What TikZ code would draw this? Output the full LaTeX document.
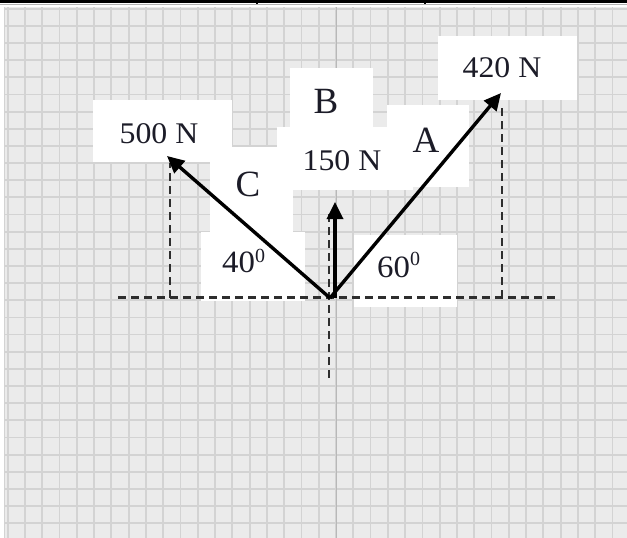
\documentclass[tikz,border=0pt]{standalone}
\usepackage{fontspec}
\setmainfont{Liberation Serif}
\usetikzlibrary{arrows.meta}
\definecolor{paper}{HTML}{EBEBEB}
\definecolor{gridc}{HTML}{D3D3D3}
\definecolor{axisc}{HTML}{B8B8B8}
\definecolor{ink}{HTML}{1C1C28}
\definecolor{dashc}{HTML}{2E2E2E}
\newcommand\wideT[1]{\scalebox{1.06}[1]{#1}}
\begin{document}
\begin{tikzpicture}[x=1pt,y=-1pt,
  wbox/.style={fill=white,draw=none},
  lbl/.style={inner sep=0pt,text=ink,font=\fontsize{30}{30}\selectfont},
  ang/.style={inner sep=0pt,text=ink,font=\fontsize{31}{31}\selectfont},
  big/.style={inner sep=0pt,text=ink,font=\fontsize{37}{37}\selectfont},
  force/.style={draw=black,line width=3.4pt,-{Triangle[length=17pt,width=16pt]}},
  guide/.style={draw=dashc,line width=2.2pt,dash pattern=on 8pt off 5pt}]
\useasboundingbox (0,0) rectangle (627,538);
\fill[white] (0,0) rectangle (627,538);
% graph paper
\fill[paper] (4,7) rectangle (627,538);
\foreach \k in {0,...,35} \draw[gridc,line width=1.8pt] ({7.7+17.28*\k},7) -- ({7.7+17.28*\k},538);
\foreach \k in {0,...,30} \draw[gridc,line width=1.8pt] (4,{8.7+17.15*\k}) -- (627,{8.7+17.15*\k});
\draw[axisc,line width=1pt] (336,7) -- (336,538);
\draw[gridc,line width=1.2pt] (4.5,7) -- (4.5,538);
% table border at the top
\fill[black] (0,0) rectangle (627,3);
\fill[black] (256,0) rectangle (258,5);
\fill[black] (424,0) rectangle (426,5);
\draw[gray!60,line width=0.8pt] (0,4.2) -- (627,4.2);
% white label boxes
\fill[wbox] (93,100) rectangle (232,162);
\fill[wbox] (210,147) rectangle (293,233);
\fill[wbox] (201,232) rectangle (305,301);
\fill[wbox] (290,68) rectangle (373,127);
\fill[wbox] (277,127) rectangle (400,190);
\fill[wbox] (320,167) rectangle (413,190);
\fill[wbox] (387,105) rectangle (469,187);
\fill[wbox] (438,36) rectangle (577,100);
\fill[wbox] (354,235) rectangle (457,307);
% labels
\node[lbl,anchor=base] (t500) at (159,143) {\wideT{500 N}};
\node[lbl,anchor=base] (t420) at (502,77) {\wideT{420 N}};
\node[lbl,anchor=base] (t150) at (342,170) {\wideT{150 N}};
\node[big,anchor=base] (tB) at (326,113) {B};
\node[big,anchor=base] (tC) at (248,196.5) {C};
\node[big,anchor=base] (tA) at (426,152) {A};
\node[ang,anchor=base west] (t40) at (222,272) {\wideT{40}\raisebox{10pt}{\fontsize{20}{20}\selectfont 0}};
\node[ang,anchor=base west] (t60) at (377,277) {\wideT{60}\raisebox{12pt}{\fontsize{20}{20}\selectfont 0}};
% construction lines
\coordinate (XL) at (118,297.5);
\coordinate (XR) at (558,297.5);
\coordinate (YT) at (329,214);
\coordinate (YB) at (329,381);
\coordinate (Cf) at (170,297.5);
\coordinate (Ct) at (170,163);
\coordinate (Af) at (502,297.5);
\coordinate (At) at (502,104);
\draw[guide] (XL) -- (XR);
\draw[guide] (YT) -- (YB);
\draw[guide] (Cf) -- (Ct);
\draw[guide] (Af) -- (At);
% forces
\coordinate (O) at (330,298);
\coordinate (OB) at (335,298);
\coordinate (Ctip) at (167,156);
\coordinate (Atip) at (501,93);
\coordinate (Btip) at (335,202);
\draw[force] (O) -- (Ctip);
\draw[force] (O) -- (Atip);
\draw[force] (OB) -- (Btip);
\end{tikzpicture}
\end{document}
